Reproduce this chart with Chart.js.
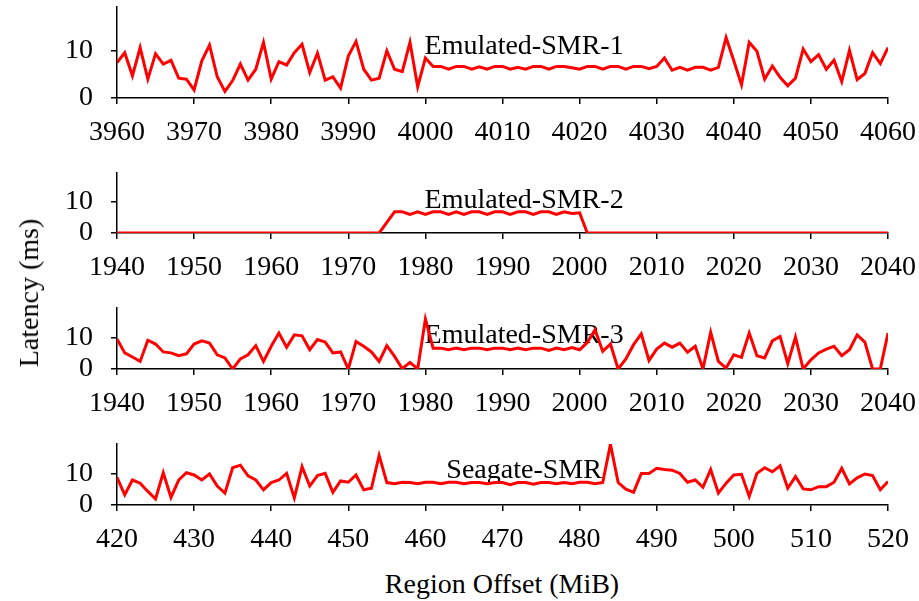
<!DOCTYPE html>
<html>
<head>
<meta charset="utf-8">
<script src="https://cdn.jsdelivr.net/npm/chart.js@4.4.0/dist/chart.umd.min.js"></script>
<style>
  body { margin: 0; background: #fff; }
  #wrap { position: relative; width: 919px; height: 601px; overflow: hidden; font-family: "Liberation Serif", "Times New Roman", serif; }
  canvas { position: absolute; left: 0; }
  .lbl { position: absolute; font-size: 28px; line-height: 28px; color: #000; white-space: nowrap; }
</style>
</head>
<body>
<div id="wrap">
  <canvas id="c1" width="919" height="161" style="top:-13px"></canvas>
  <canvas id="c2" width="919" height="130" style="top:153px"></canvas>
  <canvas id="c3" width="919" height="131" style="top:288px"></canvas>
  <canvas id="c4" width="919" height="131" style="top:424px"></canvas>
  <div class="lbl" style="left:29px; top:293px; transform:translate(-50%,-50%) rotate(-90deg)">Latency (ms)</div>
  <div class="lbl" style="left:502px; top:570px; transform:translateX(-50%)">Region Offset (MiB)</div>
</div>
<script>
// region offsets (MiB) for each panel
function seq(a, b) { var r = []; for (var i = a; i <= b; i++) r.push(i); return r; }
var offsets1 = seq(3960, 4060);
var offsets2 = seq(1940, 2040);
var offsets3 = seq(1940, 2040);
var offsets4 = seq(420, 520);

// latency (ms)
var smr1 = [
  7.5, 9.6, 4.7, 10.7, 4.0, 9.4, 7.2, 8.0, 4.2, 4.0,
  1.7, 7.9, 11.2, 4.5, 1.4, 3.7, 7.2, 3.8, 6.1, 11.8,
  4.0, 7.7, 7.0, 9.6, 11.4, 5.4, 9.5, 3.8, 4.5, 2.1,
  8.9, 12.0, 6.1, 3.8, 4.2, 10.0, 6.1, 5.6, 11.8, 2.4,
  8.5, 6.7, 6.7, 6.1, 6.7, 6.7, 6.1, 6.6, 6.1, 6.7,
  6.7, 6.1, 6.5, 6.1, 6.7, 6.7, 6.1, 6.7, 6.7, 6.4,
  6.1, 6.7, 6.7, 6.1, 6.7, 6.7, 6.1, 6.7, 6.7, 6.2,
  6.7, 8.5, 5.9, 6.5, 5.9, 6.5, 6.5, 5.9, 6.5, 12.8,
  7.9, 2.8, 11.8, 9.9, 4.0, 6.8, 4.4, 2.6, 4.2, 10.4,
  7.7, 9.2, 6.1, 8.0, 3.5, 10.1, 3.9, 5.2, 9.6, 7.3,
  10.7
];
var smr2 = [
  0, 0, 0, 0, 0, 0, 0, 0, 0, 0,
  0, 0, 0, 0, 0, 0, 0, 0, 0, 0,
  0, 0, 0, 0, 0, 0, 0, 0, 0, 0,
  0, 0, 0, 0, 0, 3.4, 6.8, 6.8, 6.0, 6.8,
  6.0, 6.8, 6.8, 6.0, 6.8, 6.0, 6.8, 6.8, 6.0, 6.8,
  6.8, 6.0, 6.8, 6.8, 6.0, 6.8, 6.8, 6.0, 6.8, 6.3,
  6.5, 0, 0, 0, 0, 0, 0, 0, 0, 0,
  0, 0, 0, 0, 0, 0, 0, 0, 0, 0,
  0, 0, 0, 0, 0, 0, 0, 0, 0, 0,
  0, 0, 0, 0, 0, 0, 0, 0, 0, 0,
  0
];
var smr3 = [
  9.5, 5.1, 3.8, 2.4, 9.1, 7.9, 5.4, 5.1, 4.2, 4.8,
  7.9, 8.9, 8.2, 4.5, 3.5, 0, 3.2, 4.5, 7.4, 2.4,
  7.2, 11.4, 6.9, 10.8, 10.5, 6.1, 9.3, 8.5, 5.1, 5.4,
  0, 8.7, 7.2, 5.4, 2.4, 7.4, 4.0, 0.1, 2.1, 0,
  15.8, 6.6, 6.6, 6.1, 6.6, 6.1, 6.6, 6.6, 6.1, 6.6,
  6.6, 6.1, 6.6, 6.1, 6.6, 6.6, 5.9, 6.6, 6.1, 6.8,
  6.1, 8.4, 12.4, 5.6, 7.9, 0, 3.2, 7.7, 11.1, 2.7,
  6.3, 8.2, 6.9, 8.2, 5.3, 7.2, 0, 11.6, 2.4, 0.3,
  4.5, 3.7, 11.4, 4.2, 3.5, 8.9, 10.3, 1.7, 10.1, 0,
  2.9, 5.1, 6.3, 7.2, 4.2, 6.1, 10.8, 8.5, 0, 0,
  11.4
];
var seagate = [
  8.75, 3.2, 7.9, 6.9, 4.3, 1.9, 10.2, 2.4, 7.9, 10.2,
  9.5, 7.9, 9.8, 6.0, 3.75, 11.8, 12.6, 9.2, 7.9, 4.8,
  7.1, 7.9, 10.0, 2.2, 12.1, 6.0, 9.3, 10.0, 4.0, 7.6,
  7.2, 9.5, 4.8, 5.3, 15.7, 7.1, 6.7, 7.2, 7.1, 6.7,
  7.2, 7.2, 6.7, 7.2, 7.2, 6.7, 7.1, 7.1, 6.7, 7.1,
  7.1, 6.4, 7.1, 7.1, 6.6, 7.1, 7.1, 6.7, 7.1, 6.7,
  7.2, 7.2, 6.7, 7.1, 19.2, 7.1, 5.0, 4.0, 10.0, 10.0,
  11.6, 11.25, 11.0, 10.0, 7.2, 7.9, 5.6, 11.25, 3.75, 6.9,
  9.5, 9.7, 2.7, 10.0, 11.8, 10.5, 12.4, 5.3, 9.0, 5.1,
  4.8, 5.8, 5.8, 7.2, 11.6, 6.7, 8.6, 9.8, 9.3, 4.8,
  7.4
];

// tick labels
var xTicks1 = [3960, 3970, 3980, 3990, 4000, 4010, 4020, 4030, 4040, 4050, 4060];
var xTicks2 = [1940, 1950, 1960, 1970, 1980, 1990, 2000, 2010, 2020, 2030, 2040];
var xTicks4 = [420, 430, 440, 450, 460, 470, 480, 490, 500, 510, 520];
var yTicks = [0, 10];
var yMax = 19.3;

Chart.defaults.font.family = '"Liberation Serif", "Times New Roman", serif';
Chart.defaults.font.size = 28;
Chart.defaults.color = '#000';

var panelLabel = {
  id: 'panelLabel',
  beforeDatasetsDraw: function(chart, args, opts) {
    var ctx = chart.ctx, area = chart.chartArea;
    var x = area.left + opts.frac * (area.right - area.left);
    var y = chart.scales.y.getPixelForValue(opts.y);
    ctx.save();
    ctx.font = '28px "Liberation Serif", serif';
    ctx.fillStyle = '#000';
    ctx.textAlign = 'center';
    ctx.textBaseline = 'alphabetic';
    ctx.fillText(opts.text, x, y);
    ctx.restore();
  }
};

function makePanel(id, offsets, values, xTicks, name, nameY) {
  var pts = values.map(function(v, i) { return {x: offsets[i], y: v}; });
  return new Chart(document.getElementById(id), {
    type: 'line',
    data: {
      datasets: [{
        data: pts,
        borderColor: '#ff0000',
        borderWidth: 3,
        pointRadius: 0,
        tension: 0,
        fill: false
      }]
    },
    options: {
      responsive: false,
      animation: false,
      events: [],
      layout: {padding: {top: 20, left: 0, right: 31, bottom: 0}},
      plugins: {
        legend: {display: false},
        tooltip: {enabled: false},
        panelLabel: {text: name, y: nameY, frac: 0.528}
      },
      scales: {
        x: {
          type: 'linear',
          min: offsets[0],
          max: offsets[offsets.length - 1],
          afterBuildTicks: function(s) { s.ticks = xTicks.map(function(v) { return {value: v}; }); },
          afterFit: function(s) { s.height = 50; s.paddingLeft = 0; s.paddingRight = 0; s.paddingTop = 0; s.paddingBottom = 0; },
          ticks: {autoSkip: false, maxRotation: 0, padding: 12, callback: function(v) { return String(v); }},
          grid: {drawOnChartArea: false, tickLength: 6, color: '#000', lineWidth: 1.5},
          border: {color: '#000', width: 1.5}
        },
        y: {
          min: 0,
          max: yMax,
          afterBuildTicks: function(s) { s.ticks = yTicks.map(function(v) { return {value: v}; }); },
          afterFit: function(s) { s.width = 117; s.paddingLeft = 0; s.paddingRight = 0; s.paddingTop = 0; s.paddingBottom = 0; },
          ticks: {padding: 18},
          grid: {drawOnChartArea: false, tickLength: 6, color: '#000', lineWidth: 1.5},
          border: {color: '#000', width: 1.5}
        }
      }
    },
    plugins: [panelLabel]
  });
}

makePanel('c1', offsets1, smr1, xTicks1, 'Emulated-SMR-1', 9.3);
makePanel('c2', offsets2, smr2, xTicks2, 'Emulated-SMR-2', 8.0);
makePanel('c3', offsets3, smr3, xTicks2, 'Emulated-SMR-3', 8.2);
makePanel('c4', offsets4, seagate, xTicks4, 'Seagate-SMR', 8.4);
</script>
</body>
</html>
